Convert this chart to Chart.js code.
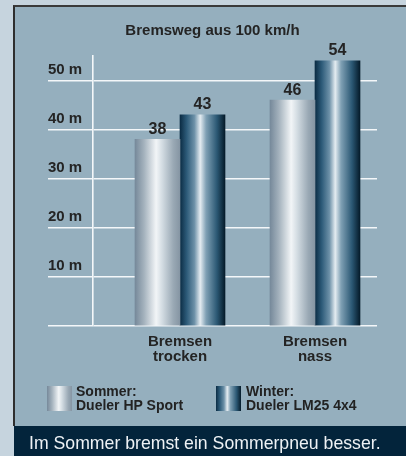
<!DOCTYPE html>
<html>
<head>
<meta charset="utf-8">
<script src="https://cdn.jsdelivr.net/npm/chart.js@4"></script>
<style>
    html, body { margin: 0; padding: 0; }
    body { width: 406px; height: 456px; background: #c6d4de; position: relative; overflow: hidden;
        font-family: 'Liberation Sans', Arial, sans-serif; }
    #panel { position: absolute; left: 13px; top: 5px; width: 391px; height: 419px; background: #95afbe;
        border-left: 2px solid #2e2e2e; border-top: 2px solid #3a3a3a; }
    #chartBox { position: absolute; left: 0; top: 0; width: 406px; height: 456px; }
    #legend { position: absolute; left: 0; top: 0; }
    .swatch { position: absolute; width: 25px; height: 25px; }
    .legend-text { position: absolute; white-space: nowrap; font-weight: bold; font-size: 14px; line-height: 14px; color: #222; }
    #caption { position: absolute; left: 14px; top: 426px; width: 392px; height: 30px; background: #03243b;
        color: #eef2f5; font-size: 19px; line-height: 30px; white-space: nowrap; }
    #caption span { display: inline-block; transform: scaleX(0.93); transform-origin: left center; margin-left: 15px; margin-top: 2px; }
</style>
</head>
<body>
<div id="panel"></div>
<div id="chartBox"><canvas id="brakeChart" width="406" height="456"></canvas></div>
<div id="legend"></div>
<div id="caption"><span>Im Sommer bremst ein Sommerpneu besser.</span></div>
<script>
const chartTitle = 'Bremsweg aus 100 km/h';
const categories = [['Bremsen', 'trocken'], ['Bremsen', 'nass']];
const seriesNames = [['Sommer:', 'Dueler HP Sport'], ['Winter:', 'Dueler LM25 4x4']];
const summerValues = [38, 46];
const winterValues = [43, 54];
const yTicks = [0, 10, 20, 30, 40, 50];
const unit = ' m';

const FONT = "'Liberation Sans', Arial, sans-serif";
const TEXT_COLOR = '#242424';

// gradient stops for the two bar styles (silver / dark blue cylinder look)
const gradientStops = [
    [[0, '#76899a'], [0.2, '#a4b2bd'], [0.47, '#f2f5f7'], [0.6, '#d4dde3'], [0.85, '#9aa9b5'], [1, '#8595a3']],
    [[0, '#0b2c44'], [0.15, '#2d5b79'], [0.32, '#6d91a8'], [0.45, '#e4ecf1'], [0.58, '#7fa0b4'], [0.82, '#2b5874'], [1, '#051b2a']]
];
const flatColors = ['#c9d3da', '#2d5b79'];

function makeGradient(ctx, x0, x1, stops) {
    const g = ctx.createLinearGradient(x0, 0, x1, 0);
    stops.forEach(s => g.addColorStop(s[0], s[1]));
    return g;
}

// shade every bar horizontally like a cylinder
const barGradient = {
    id: 'barGradient',
    beforeDatasetsDraw(chart) {
        chart.data.datasets.forEach((ds, i) => {
            chart.getDatasetMeta(i).data.forEach(el => {
                const half = el.width / 2;
                el.options.backgroundColor = makeGradient(chart.ctx, el.x - half, el.x + half, gradientStops[i]);
            });
        });
    }
};

// value labels above the bars
const valueLabels = {
    id: 'valueLabels',
    afterDatasetsDraw(chart) {
        const ctx = chart.ctx;
        ctx.save();
        ctx.font = 'bold 16px ' + FONT;
        ctx.fillStyle = TEXT_COLOR;
        ctx.textAlign = 'center';
        ctx.textBaseline = 'middle';
        chart.data.datasets.forEach((ds, i) => {
            chart.getDatasetMeta(i).data.forEach((el, j) => {
                ctx.fillText(String(ds.data[j].y), el.x, el.y - 10);
            });
        });
        ctx.restore();
    }
};

const ctx = document.getElementById('brakeChart').getContext('2d');
const brakeChart = new Chart(ctx, {
    type: 'bar',
    data: {
        datasets: [
            {
                label: seriesNames[0].join(' '),
                data: summerValues.map((v, i) => ({ x: i + 1, y: v })),
                backgroundColor: () => flatColors[0],
                borderWidth: 0,
                barThickness: 45
            },
            {
                label: seriesNames[1].join(' '),
                data: winterValues.map((v, i) => ({ x: i + 1, y: v })),
                backgroundColor: () => flatColors[1],
                borderWidth: 0,
                barThickness: 45
            }
        ]
    },
    options: {
        responsive: false,
        animation: false,
        layout: { padding: { left: 48, right: 29, top: 0, bottom: 80 } },
        plugins: {
            legend: { display: false },
            tooltip: { enabled: false },
            title: {
                display: true,
                text: chartTitle,
                color: TEXT_COLOR,
                font: { family: FONT, size: 15, weight: 'bold', lineHeight: 1 },
                padding: { top: 23, bottom: 18 }
            }
        },
        scales: {
            x: {
                type: 'linear',
                offset: false,
                min: 0.3556,
                max: 2.4593,
                afterBuildTicks: scale => { scale.ticks = categories.map((c, i) => ({ value: i + 1 })); },
                afterFit: scale => { scale.height = 50; },
                grid: { display: false, drawTicks: false },
                border: { display: false },
                ticks: {
                    autoSkip: false,
                    maxRotation: 0,
                    padding: 8,
                    color: TEXT_COLOR,
                    font: { family: FONT, size: 15, weight: 'bold', lineHeight: 1.0 },
                    callback: v => categories[v - 1]
                }
            },
            y: {
                min: 0,
                max: 55,
                afterBuildTicks: scale => { scale.ticks = yTicks.map(v => ({ value: v })); },
                afterFit: scale => { scale.width = 45; },
                grid: { color: '#f4f7f9', lineWidth: 1.6, tickLength: 45, tickColor: '#f4f7f9' },
                border: { display: true, color: '#f4f7f9', width: 1.6 },
                ticks: {
                    crossAlign: 'far',
                    labelOffset: -11,
                    color: TEXT_COLOR,
                    font: { family: FONT, size: 15, weight: 'bold' },
                    callback: v => (v === 0 ? '' : v + unit)
                }
            }
        }
    },
    plugins: [barGradient, valueLabels]
});

// html legend built from the series names and bar gradients
const legendPos = [{ swatch: 47, text: 76 }, { swatch: 216, text: 246 }];
const legendEl = document.getElementById('legend');
seriesNames.forEach((lines, i) => {
    const sw = document.createElement('div');
    sw.className = 'swatch';
    sw.style.left = legendPos[i].swatch + 'px';
    sw.style.top = '386px';
    sw.style.background = 'linear-gradient(to right, ' +
        gradientStops[i].map(s => s[1] + ' ' + Math.round(s[0] * 100) + '%').join(', ') + ')';
    legendEl.appendChild(sw);
    const tx = document.createElement('div');
    tx.className = 'legend-text';
    tx.style.left = legendPos[i].text + 'px';
    tx.style.top = '384px';
    tx.innerHTML = lines.join('<br>');
    legendEl.appendChild(tx);
});
</script>
</body>
</html>
